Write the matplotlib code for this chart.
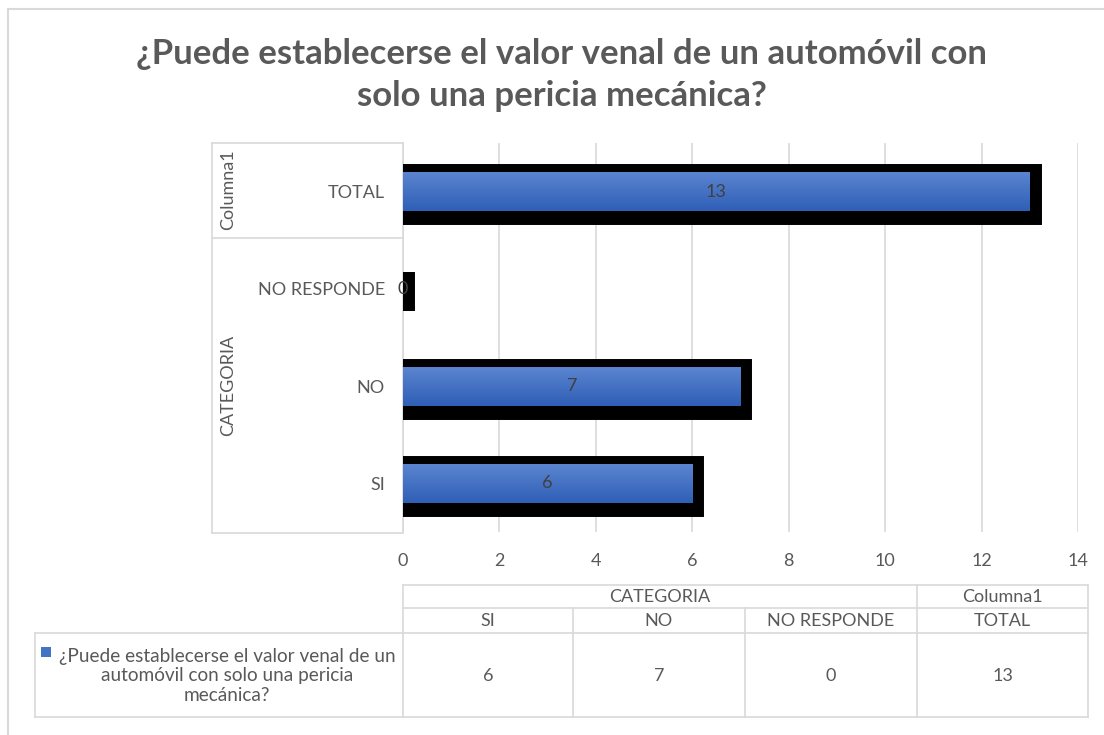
import matplotlib
matplotlib.use("Agg")
import matplotlib.pyplot as plt
import matplotlib.patheffects as pe
from matplotlib.colors import LinearSegmentedColormap
from matplotlib.lines import Line2D
from matplotlib.patches import Rectangle
import numpy as np

plt.rcParams['font.family'] = ['Lato', 'DejaVu Sans']

# datos
titulo = "¿Puede establecerse el valor venal de un automóvil con\nsolo una pericia mecánica?"
serie = "¿Puede establecerse el valor venal de un\nautomóvil con solo una pericia\nmecánica?"
categorias = ["SI", "NO", "NO RESPONDE", "TOTAL"]
grupos = ["CATEGORIA", "CATEGORIA", "CATEGORIA", "Columna1"]
valores = [6, 7, 0, 13]

W, H = 1104, 735
GRIS = '#595959'
LINEA = '#d9d9d9'
FS = 13


def fx(x):
    return x / W


def fy(y):
    return 1 - y / H


fig = plt.figure(figsize=(W / 100, H / 100), dpi=100)

# marco exterior
fig.add_artist(Rectangle((fx(8), fy(760)), fx(1110), 751 / H, transform=fig.transFigure,
                         fill=False, edgecolor=LINEA, linewidth=1.5))

ax = fig.add_axes([fx(403), fy(532), fx(1078 - 403), (532 - 143) / H])

y = np.arange(len(categorias))
bars = ax.barh(y, valores, height=0.4, color='#4472c4', zorder=3,
               path_effects=[pe.Stroke(linewidth=15.8, foreground='black', offset=(0.7, -2.2)),
                             pe.Normal()])

# degradado azul en cada barra
cmap = LinearSegmentedColormap.from_list('azul', ['#2f5fb6', '#5b84d0'])
grad = np.linspace(0, 1, 64).reshape(-1, 1)
for b in bars:
    if b.get_width() <= 0:
        continue
    x0, y0 = b.get_x(), b.get_y()
    im = ax.imshow(grad, extent=[x0, x0 + b.get_width(), y0, y0 + b.get_height()],
                   origin='lower', aspect='auto', cmap=cmap, zorder=4)
    im.set_clip_path(b)

for b, v in zip(bars, valores):
    ax.text(b.get_width() / 2, b.get_y() + b.get_height() / 2, str(v),
            ha='center', va='center', fontsize=FS, color='#404040', zorder=5)

ax.set_xlim(0, 14)
ax.set_ylim(-0.5, len(categorias) - 0.5)
ax.set_xticks(range(0, 15, 2))
ax.set_yticks(y)
ax.set_yticklabels(categorias)
ax.tick_params(axis='both', length=0, labelsize=FS, labelcolor=GRIS)
ax.tick_params(axis='y', pad=13)
ax.tick_params(axis='x', pad=15)
ax.grid(axis='x', color=LINEA, linewidth=1.2, zorder=0)
ax.set_axisbelow(True)
for s in ['top', 'right', 'bottom']:
    ax.spines[s].set_visible(False)
ax.spines['left'].set_color(LINEA)
ax.spines['left'].set_linewidth(1.2)


def linea(x1, y1, x2, y2):
    fig.add_artist(Line2D([fx(x1), fx(x2)], [fy(y1), fy(y2)], transform=fig.transFigure,
                          color=LINEA, linewidth=1.2))


# etiquetas de grupo en el eje y
linea(212, 143, 403, 143)
linea(212, 238, 403, 238)
linea(212, 533, 403, 533)
linea(212, 143, 212, 533)
fig.text(fx(228), fy(190), grupos[3], rotation=90, ha='center', va='center',
         fontsize=FS, color=GRIS)
fig.text(fx(228), fy(385), grupos[0], rotation=90, ha='center', va='center',
         fontsize=FS, color=GRIS)

# titulo
fig.text(fx(562), fy(75), titulo, ha='center', va='center', fontsize=25,
         fontweight='bold', color=GRIS, linespacing=1.38)

# tabla de datos
cols = [403, 573, 745, 917, 1088]
linea(403, 585, 1088, 585)
linea(403, 608, 1088, 608)
linea(35, 633, 1088, 633)
linea(35, 717, 1088, 717)
linea(35, 633, 35, 717)
for i, c in enumerate(cols):
    top = 585 if i in (0, 3, 4) else 608
    linea(c, top, c, 717)

fig.text(fx((403 + 917) / 2), fy(597), grupos[0], ha='center', va='center', fontsize=FS, color=GRIS)
fig.text(fx((917 + 1088) / 2), fy(597), grupos[3], ha='center', va='center', fontsize=FS, color=GRIS)
for i, (cat, v) in enumerate(zip(categorias, valores)):
    cx = (cols[i] + cols[i + 1]) / 2
    fig.text(fx(cx), fy(621), cat, ha='center', va='center', fontsize=FS, color=GRIS)
    fig.text(fx(cx), fy(676), str(v), ha='center', va='center', fontsize=FS, color=GRIS)

fig.text(fx(227), fy(676), serie, ha='center', va='center', fontsize=13.7, color=GRIS,
         linespacing=1.15)
fig.add_artist(Rectangle((fx(41), fy(657)), 10 / W, 10 / H, transform=fig.transFigure,
                         facecolor='#4472c4', edgecolor='none'))

fig.savefig('out.png', dpi=100)
